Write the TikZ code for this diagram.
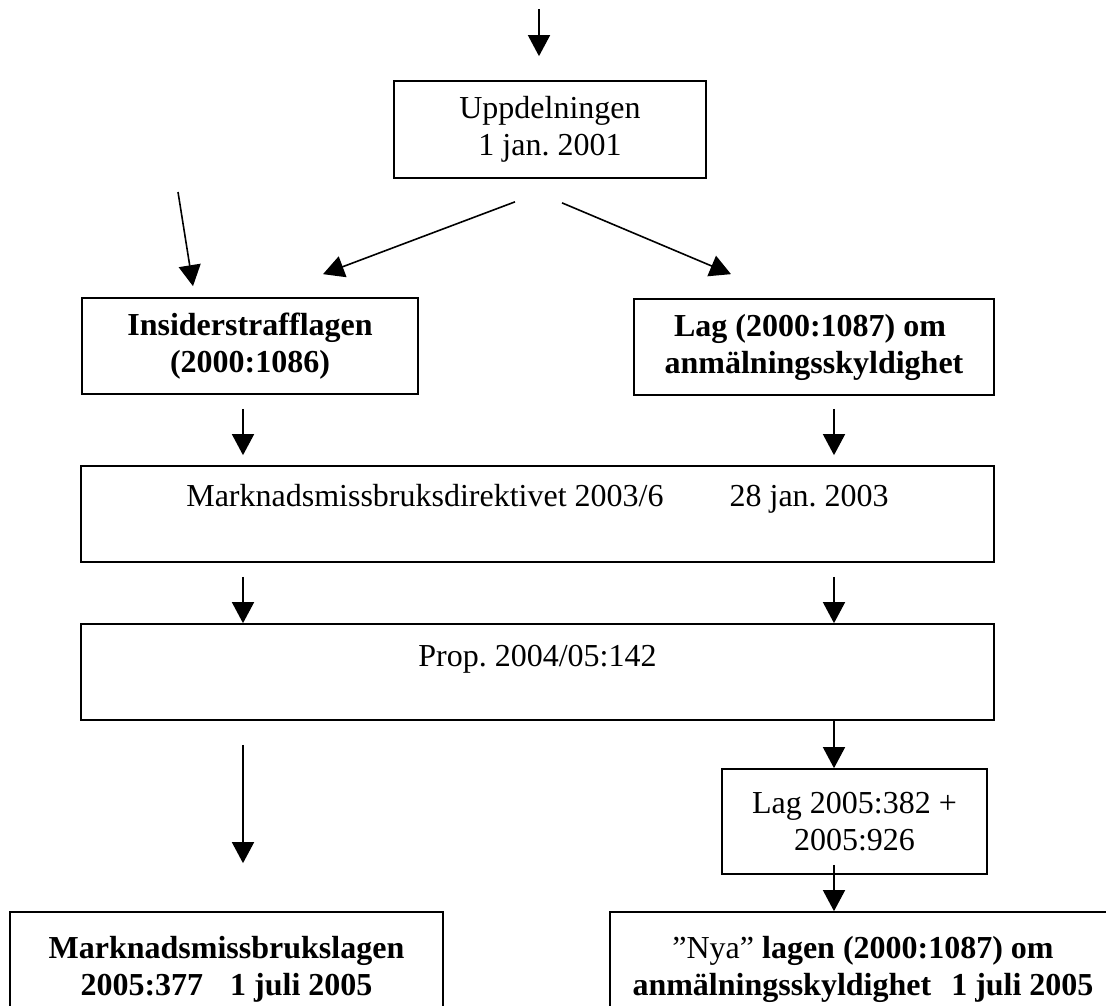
\documentclass[tikz,border=0pt]{standalone}
\usepackage{fontspec}
\setmainfont{Liberation Serif}
\usetikzlibrary{arrows.meta,calc}
\frenchspacing
\begin{document}
\begin{tikzpicture}[x=1pt,y=-1pt,
  frame/.style={draw, line width=1.7pt, rectangle, inner sep=0pt,
                font=\fontsize{32}{37}\selectfont},
  box/.style={frame, align=center},
  boldbox/.style={box, font=\fontsize{32}{37}\selectfont\bfseries},
  arr/.style={line width=1.6pt, -{Triangle[length=21pt,width=22pt]}},
]
% page
\path[use as bounding box, clip] (0,0) rectangle (1106,1005);
\fill[white] (0,0) rectangle (1106,1005);

% boxes
\node[box, minimum width=312pt, minimum height=97pt] (upp) at (550,129.5)
  {Uppdelningen\\1 jan. 2001};
\node[boldbox, minimum width=336pt, minimum height=96pt] (ins) at (250,346)
  {Insiderstrafflagen\\(2000:1086)};
\node[boldbox, minimum width=360pt, minimum height=96pt] (lag) at (814,347)
  {Lag (2000:1087) om\hspace*{8pt}\\anmälningsskyldighet};
\node[frame, minimum width=913pt, text height=40pt, text depth=56pt] (mmd) at (537.5,514)
  {Marknadsmissbruksdirektivet 2003/6\hspace{66pt}28 jan. 2003};
\node[frame, minimum width=913pt, text height=42pt, text depth=54pt] (prop) at (537.5,672)
  {Prop. 2004/05:142};
\node[box, minimum width=265pt, minimum height=105pt] (lfem) at (854.5,821.5)
  {\raisebox{-3pt}{Lag 2005:382 +}\\\raisebox{-3pt}{2005:926}};
\node[boldbox, minimum width=433pt, minimum height=114pt] (ml) at (226.5,969)
  {Marknadsmissbrukslagen\\2005:377\hspace{27pt}1 juli 2005};
\node[box, minimum width=506pt, minimum height=114pt] (nya) at (863,969)
  {”Nya” \textbf{lagen (2000:1087) om}\\\textbf{anmälningsskyldighet\hspace{20pt}1 juli 2005}};

% connectors
\coordinate (src) at (539,9);
\coordinate (side) at (178,192);
\coordinate (xl) at (243,0);
\coordinate (xr) at (834,0);

\draw[arr, shorten >=24pt] (src) -- (src |- upp.north);
\draw[arr] ($(upp.south)+(-35,23)$) -- ($(ins.north)+(73,-23)$);
\draw[arr] ($(upp.south)+(12,24)$) -- ($(lag.north)+(-83,-24)$);
\draw[arr] (side) -- ($(ins.north)+(-57,-11)$);

\draw[arr, shorten <=14pt, shorten >=10pt] (ins.south -| xl) -- (mmd.north -| xl);
\draw[arr, shorten <=13pt, shorten >=10pt] (lag.south -| xr) -- (mmd.north -| xr);
\draw[arr, shorten <=14pt] (mmd.south -| xl) -- (prop.north -| xl);
\draw[arr, shorten <=14pt] (mmd.south -| xr) -- (prop.north -| xr);
\draw[arr] (prop.south -| xr) -- (lfem.north -| xr);
\draw[arr, shorten <=24pt, shorten >=48pt] (prop.south -| xl) -- (ml.north -| xl);
\draw[arr, shorten <=-10pt] (lfem.south -| xr) -- (nya.north -| xr);
\end{tikzpicture}
\end{document}
